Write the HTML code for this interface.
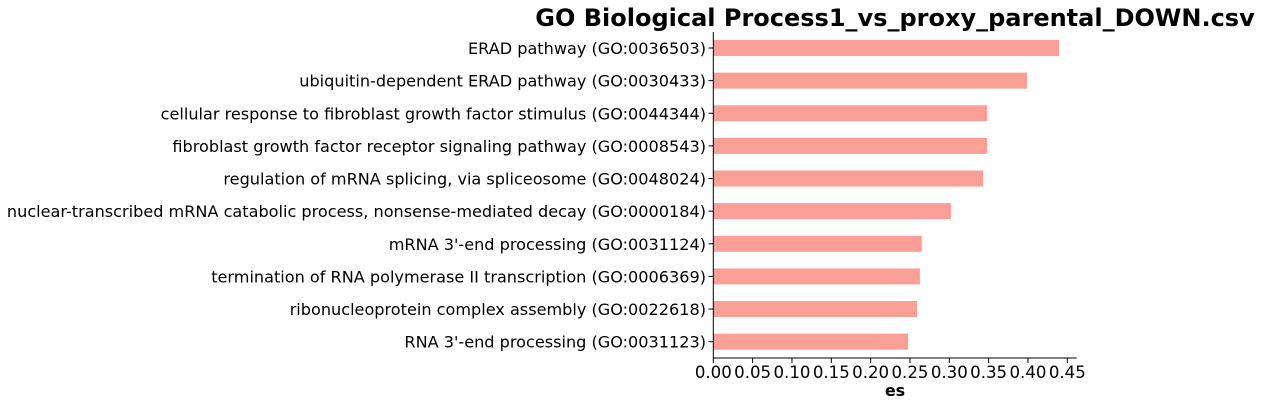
<!DOCTYPE html>
<html><head><meta charset="utf-8"><style>
body{margin:0;background:#fff}
svg text{font-family:"DejaVu Sans","Liberation Sans",sans-serif;fill:#000}
</style></head><body>
<svg id="chart" width="1261" height="406">
<text x="895" y="26" text-anchor="middle" font-size="24" font-weight="bold">GO Biological Process1_vs_proxy_parental_DOWN.csv</text>
<g id="bars"></g><g id="ylabels"></g><g id="xticks"></g>
<line x1="713.3" y1="32" x2="713.3" y2="358" stroke="#000" stroke-width="1"/>
<line x1="713.3" y1="358" x2="1076.7" y2="358" stroke="#000" stroke-width="1"/>
<text x="895" y="396" text-anchor="middle" font-size="16" font-weight="bold">es</text>
</svg>
<script>
const categories=["ERAD pathway (GO:0036503)","ubiquitin-dependent ERAD pathway (GO:0030433)","cellular response to fibroblast growth factor stimulus (GO:0044344)","fibroblast growth factor receptor signaling pathway (GO:0008543)","regulation of mRNA splicing, via spliceosome (GO:0048024)","nuclear-transcribed mRNA catabolic process, nonsense-mediated decay (GO:0000184)","mRNA 3'-end processing (GO:0031124)","termination of RNA polymerase II transcription (GO:0006369)","ribonucleoprotein complex assembly (GO:0022618)","RNA 3'-end processing (GO:0031123)"];
const esValues=[0.4394,0.3988,0.348,0.348,0.343,0.302,0.265,0.2626,0.259,0.2475];
const xTicks=[0,0.05,0.1,0.15,0.2,0.25,0.3,0.35,0.4,0.45];
const NS="http://www.w3.org/2000/svg";
const x=v=>713.3+v*786.7;
const yc=i=>48+i*32.63;
function mk(t,a){const e=document.createElementNS(NS,t);for(const k in a)e.setAttribute(k,a[k]);return e;}
const bars=document.getElementById('bars'),yl=document.getElementById('ylabels'),xt=document.getElementById('xticks');
categories.forEach((c,i)=>{
 const r=mk('rect',{x:x(0),y:yc(i)-8,width:x(esValues[i])-x(0),height:16,fill:'#fa9f96'});
 
 
 bars.appendChild(r);
 const tk=mk('line',{x1:708.5,x2:713.3,y1:yc(i),y2:yc(i),stroke:'#000'});
 
 
 yl.appendChild(tk);
 const t=mk('text',{x:706,y:yc(i)+6,'text-anchor':'end','font-size':16.1});
 t.textContent=c;
 
 
 yl.appendChild(t);
});
xTicks.forEach(v=>{
 const tk=mk('line',{x1:x(v),x2:x(v),y1:358,y2:363,stroke:'#000'});
 
 
 xt.appendChild(tk);
 const t=mk('text',{x:x(v),y:378,'text-anchor':'middle','font-size':16.6});
 t.textContent=v.toFixed(2);
 
 
 xt.appendChild(t);
});
</script>
</body></html>
